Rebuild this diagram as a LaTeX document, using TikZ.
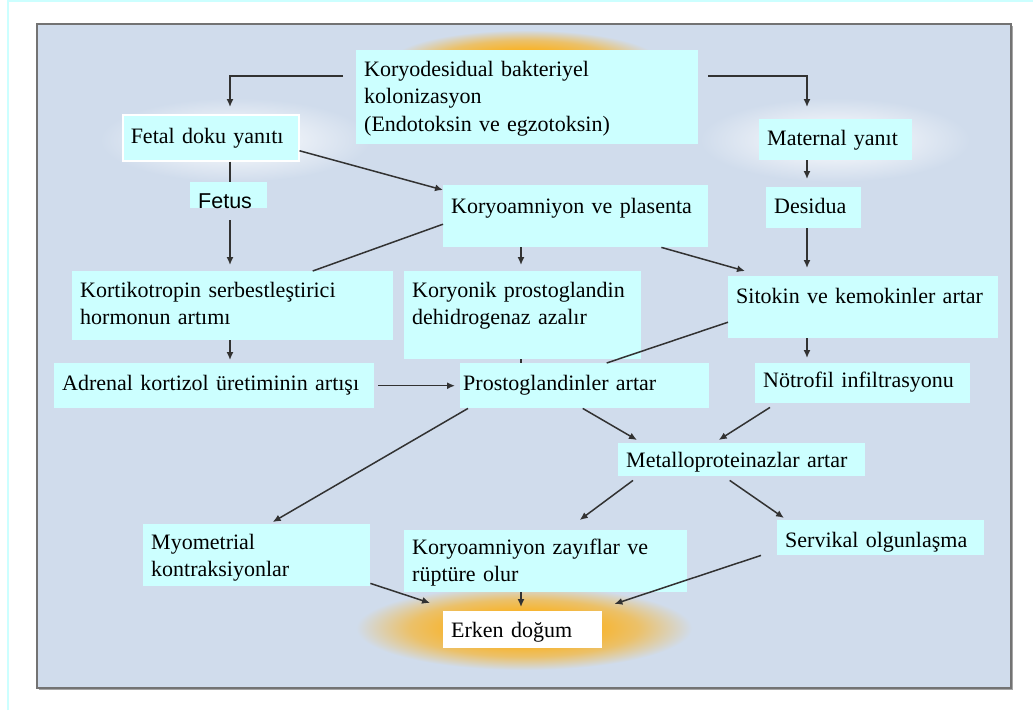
\documentclass[tikz,border=0pt]{standalone}
\usepackage{fontspec}
\setmainfont{Liberation Serif}
\newfontfamily\fetusfont{Liberation Sans}
\usetikzlibrary{shapes,arrows.meta}

\definecolor{boxcyan}{RGB}{204,255,255}
\definecolor{panelblue}{RGB}{208,220,236}
\definecolor{framecyan}{RGB}{204,255,255}
\definecolor{glowor}{RGB}{250,178,35}
\definecolor{arrowgray}{RGB}{50,50,50}

\pgfdeclareradialshading{orglow}{\pgfpoint{0bp}{0bp}}{color(0bp)=(glowor);
    color(9bp)=(glowor); color(17bp)=(glowor!65!panelblue); color(25bp)=(panelblue);
    color(50bp)=(panelblue)}

\tikzset{
  box/.style={fill=boxcyan, anchor=north west, align=left, inner xsep=8pt,
    inner ysep=0pt, font=\fontsize{22}{27.5}\selectfont},
  arrow/.style={draw=arrowgray, line width=1.5pt, -{Latex[length=8pt,width=7pt]}},
  link/.style={draw=arrowgray, line width=1.5pt},
}

\begin{document}
\begin{tikzpicture}[x=1pt,y=-1pt]
    \pgfmathsetmacro{\lcol}{230}
    \pgfmathsetmacro{\mcol}{521}
    \pgfmathsetmacro{\rcol}{807}
    \useasboundingbox (0,0) rectangle (1033,710);
    \coordinate (lcol) at (\lcol,0);
    \coordinate (mcol) at (\mcol,0);
    \coordinate (rcol) at (\rcol,0);

    % Draw the frame and the panel
    \draw [framecyan, line width=2pt] (8,710) -- (8,1) -- (1033,1);
    \fill [black!35] (39,26) rectangle (1013,690);
    \fill [panelblue] (37,24) rectangle (1011,688);
    \draw [black!55, line width=1.5pt] (37,24) rectangle (1011,688);

    % Draw the glows
    \shade [shading=orglow] (525,62) ellipse (135 and 32);
    \shade [inner color=white, outer color=panelblue] (235,140) ellipse (135 and 42);
    \shade [inner color=white, outer color=panelblue] (835,140) ellipse (135 and 42);
    \shade [shading=orglow] (524,628) ellipse (168 and 42);

    % Draw the boxes
    \node [box, text width=326pt, text height=26pt, text depth=68pt] (top) at (356,50)
        {Koryodesidual bakteriyel\\kolonizasyon\\(Endotoksin ve egzotoksin)};
    \node [box, draw=white, line width=1.5pt, text width=160pt, text height=29pt,
        text depth=17pt] (fetal) at (122,114) {Fetal doku yanıtı};
    \node [box, font=\fetusfont\fontsize{21.5}{26}\selectfont, text width=61pt,
        text height=26pt, text depth=-3pt] (fetus) at (190,182) {Fetus};
    \node [box, text width=137pt, text height=26pt, text depth=15pt] (maternal) at (759,119)
        {Maternal yanıt};
    \node [box, text width=79pt, text height=26pt, text depth=15pt] (desidua) at (766,187)
        {Desidua};
    \node [box, text width=249pt, text height=28pt, text depth=34pt] (korplas) at (443,185)
        {Koryoamniyon ve plasenta};
    \node [box, text width=305pt, text height=26pt, text depth=43pt] (kortiko) at (72,271)
        {Kortikotropin serbestleştirici\\hormonun artımı};
    \node [box, text width=221pt, text height=26pt, text depth=62pt] (koryonik) at (404,271)
        {Koryonik prostoglandin\\dehidrogenaz azalır};
    \node [box, text width=254pt, text height=27pt, text depth=35pt] (sitokin) at (728,276)
        {Sitokin ve kemokinler artar};
    \node [box, text width=304pt, text height=27pt, text depth=18pt] (adrenal) at (54,363)
        {Adrenal kortizol üretiminin artışı};
    \node [box, inner xsep=3pt, text width=243pt, text height=27pt, text depth=18pt] (prosto)
        at (460,363) {Prostoglandinler artar};
    \node [box, text width=199pt, text height=24pt, text depth=16pt] (notrofil) at (755,363)
        {Nötrofil infiltrasyonu};
    \node [box, text width=231pt, text height=24pt, text depth=9pt] (metallo) at (618,443)
        {Metalloproteinazlar artar};
    \node [box, text width=211pt, text height=25pt, text depth=37pt] (myo) at (143,524)
        {Myometrial\\kontraksiyonlar};
    \node [box, text width=267pt, text height=24pt, text depth=38pt] (korzay) at (404,530)
        {Koryoamniyon zayıflar ve\\rüptüre olur};
    \node [box, text width=191pt, text height=27pt, text depth=8pt] (servikal) at (777,520)
        {Servikal olgunlaşma};
    \node [box, fill=white, text width=143pt, text height=26pt, text depth=11pt] (erken)
        at (443,611) {Erken doğum};

    % Draw the connectors
    \draw [arrow, shorten >=7pt] ([xshift=-13pt,yshift=-26pt]top.north west) -| (fetal.north -| lcol);
    \draw [arrow, shorten >=12pt] ([xshift=10pt,yshift=-26pt]top.north east) -| (maternal.north -| rcol);
    \draw [link] (fetal.south -| lcol) -- (fetus.north -| lcol);
    \draw [arrow, shorten <=12pt, shorten >=6pt] (fetus.south -| lcol) -- (kortiko.north -| lcol);
    \draw [arrow] ([yshift=-13pt]fetal.east) -- ([yshift=-5pt]korplas.north west);
    \draw [link] ([yshift=-8pt]korplas.west) -- ([xshift=80pt]kortiko.north);
    \draw [arrow, shorten >=6pt] (korplas.south -| mcol) -- (koryonik.north -| mcol);
    \draw [arrow] ([xshift=-47pt]korplas.south east) -- ([xshift=17pt,yshift=5pt]sitokin.north west);
    \draw [arrow, shorten >=8pt] (maternal.south -| rcol) -- (desidua.north -| rcol);
    \draw [arrow, shorten >=8pt] (desidua.south -| rcol) -- (sitokin.north -| rcol);
    \draw [link] ([yshift=-15pt]sitokin.west) -- ([xshift=22pt]prosto.north);
    \draw [link] (koryonik.south -| mcol) -- (prosto.north -| mcol);
    \draw [arrow, shorten >=3pt] (kortiko.south -| lcol) -- (adrenal.north -| lcol);
    \draw [arrow, shorten <=4pt, shorten >=5pt] (adrenal.east) -- (prosto.west);
    \draw [arrow, shorten >=5pt] (sitokin.south -| rcol) -- (notrofil.north -| rcol);
    \draw [arrow] ([xshift=8pt]prosto.south west) -- ([xshift=16pt,yshift=2pt]myo.north);
    \draw [arrow] ([xshift=-2pt]prosto.south) -- ([xshift=19pt,yshift=3pt]metallo.north west);
    \draw [arrow] ([xshift=15pt,yshift=-4pt]notrofil.south west) -- ([xshift=-23pt,yshift=3pt]metallo.north);
    \draw [arrow] ([xshift=15pt,yshift=-4pt]metallo.south west) -- ([xshift=34pt,yshift=10pt]korzay.north);
    \draw [arrow] ([xshift=-12pt,yshift=-4pt]metallo.south) -- ([xshift=7pt,yshift=2pt]servikal.north west);
    \draw [arrow] ([yshift=3pt]myo.south east) -- ([xshift=-13pt,yshift=8pt]erken.north west);
    \draw [arrow, shorten >=4pt] (korzay.south -| mcol) -- (erken.north -| mcol);
    \draw [arrow] ([xshift=-16pt]servikal.south west) -- ([xshift=12pt,yshift=7pt]erken.north east);

\end{tikzpicture}
\end{document}
